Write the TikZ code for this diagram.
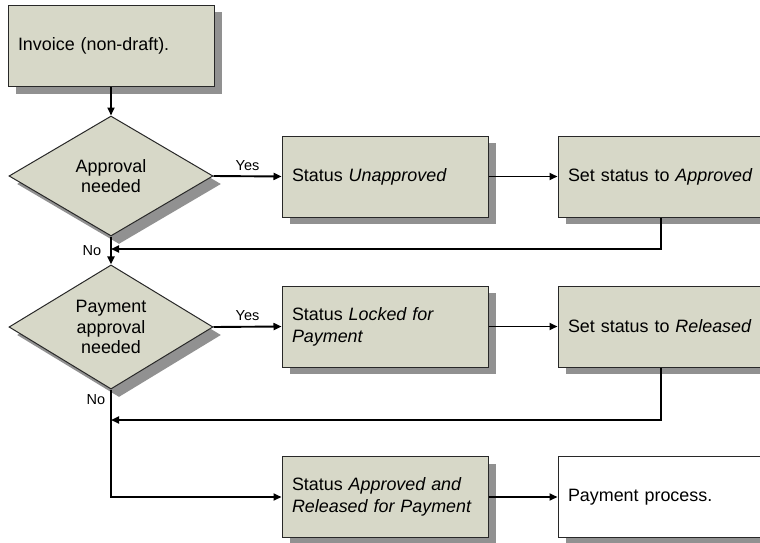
\documentclass[tikz,border=0pt]{standalone}
\usepackage{fontspec}
\setmainfont{Liberation Sans}
\usetikzlibrary{shapes.geometric,shadows,arrows.meta}
\definecolor{boxfill}{RGB}{215,216,200}
\definecolor{shadowgray}{RGB}{145,145,145}
\definecolor{edgegray}{RGB}{40,40,40}
\begin{document}
\begin{tikzpicture}[x=1pt,y=-1pt,
  shade box/.style={drop shadow={shadow xshift=8pt,shadow yshift=-7pt,fill=shadowgray,opacity=1}},
  procbox/.style={draw=edgegray,line width=1pt,fill=boxfill,shade box,
    text width=186pt,inner xsep=10pt,inner ysep=0pt,minimum height=81pt,align=left,
    font=\fontsize{17.9}{22}\selectfont},
  plainbox/.style={procbox,fill=white},
  decision/.style={diamond,draw=edgegray,line width=1pt,fill=boxfill,
    drop shadow={shadow xshift=8pt,shadow yshift=-8pt,fill=shadowgray,opacity=1},
    inner sep=0pt,minimum width=204pt,minimum height=120pt,align=center,
    font=\fontsize{17.9}{20.5}\selectfont},
  arr/.style={line width=1.9pt,-{Triangle[length=8pt,width=7pt]}},
  lbl/.style={font=\fontsize{14.5}{16}\selectfont,inner sep=1pt},
  yeslbl/.style={lbl,above=4pt}]
\clip (0,0) rectangle (760,543);
\fill[white] (0,0) rectangle (760,543);

% process steps
\node[procbox] (inv) at (111,46) {Invoice (non-draft).};
\node[decision] (d1) at (111,176) {Approval\\needed};
\node[procbox] (un) at (385,176.5) {Status \textit{Unapproved}};
\node[procbox] (ap) at (661,176.5) {Set status to \textit{Approved}};
\node[decision] (d2) at (111,327) {Payment\\approval\\needed};
\node[procbox] (lk) at (385,326.5) {Status \textit{Locked for}\\\textit{Payment}};
\node[procbox] (rl) at (661,326.5) {Set status to \textit{Released}};
\node[procbox] (ar) at (385,497) {Status \textit{Approved and}\\\textit{Released for Payment}};
\node[plainbox] (pp) at (661,497) {Payment process.};

% merge points on the main vertical flow
\coordinate (j1) at (111,249);
\coordinate (j2) at (111,420);

% connectors
\draw[arr] (inv.south) -- (d1.north);
\draw[arr] (d1.east) -- node[yeslbl] {Yes} (un.west);
\draw[arr] (un.east) -- (ap.west);
\draw[arr] (ap.south) |- (j1);
\draw[arr] (d1.south) -- (d2.north);
\node[lbl] (no1) at (92,251) {No};

\draw[arr] (d2.east) -- node[yeslbl] {Yes} (lk.west);
\draw[arr] (lk.east) -- (rl.west);
\draw[arr] (rl.south) |- (j2);
\draw[arr] (d2.south) |- (ar.west);
\node[lbl] (no2) at (96,400) {No};

\draw[arr] (ar.east) -- (pp.west);
\end{tikzpicture}
\end{document}
